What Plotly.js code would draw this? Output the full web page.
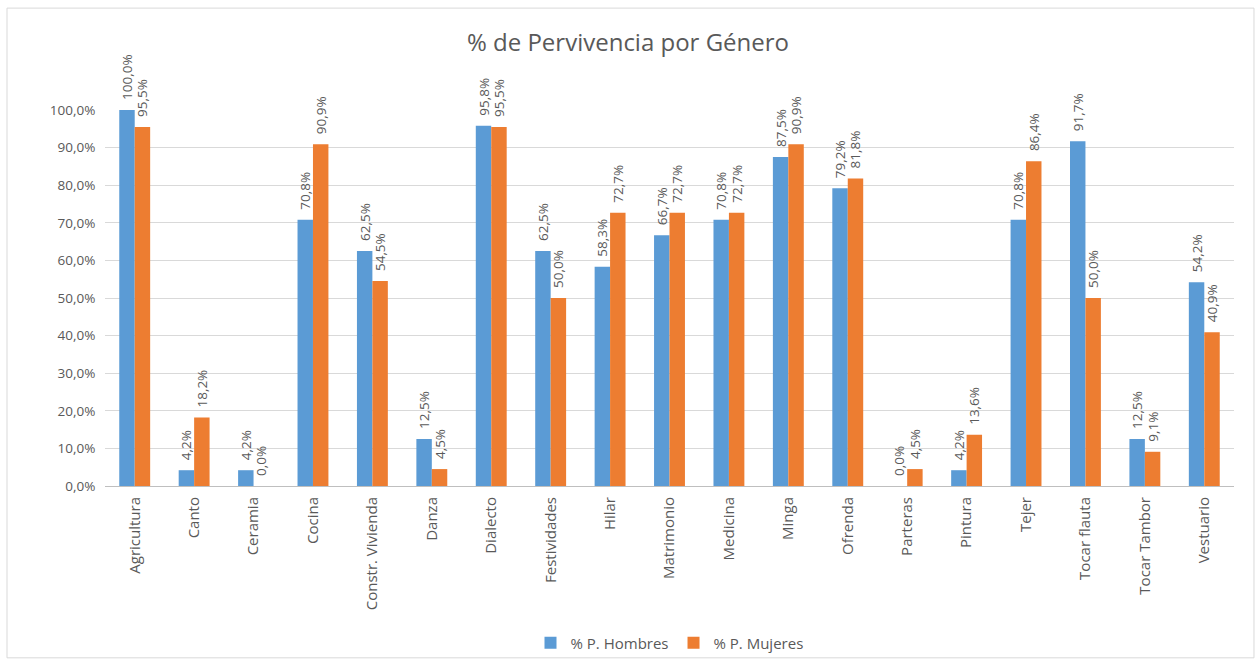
<!DOCTYPE html>
<html>
<head>
<meta charset="utf-8">
<script src="https://cdn.plot.ly/plotly-3.0.1.min.js"></script>
<style>
  body { margin: 0; background: #fff; }
  #chart { width: 1256px; height: 666px; }
</style>
</head>
<body>
<div id="chart"></div>
<script>
const generos = ['Agricultura', 'Canto', 'Ceramia', 'Cocina', 'Constr. Vivienda', 'Danza', 'Dialecto',
    'Festividades', 'Hilar', 'Matrimonio', 'Medicina', 'Minga', 'Ofrenda', 'Parteras', 'Pintura',
    'Tejer', 'Tocar flauta', 'Tocar Tambor', 'Vestuario'];
const hombres = [100.0, 4.2, 4.2, 70.8, 62.5, 12.5, 95.8, 62.5, 58.3, 66.7, 70.8, 87.5, 79.2, 0.0, 4.2, 70.8, 91.7, 12.5, 54.2];
const mujeres = [95.5, 18.2, 0.0, 90.9, 54.5, 4.5, 95.5, 50.0, 72.7, 72.7, 72.7, 90.9, 81.8, 4.5, 13.6, 86.4, 50.0, 9.1, 40.9];

const grey = '#595959';
const fam = '"Open Sans", sans-serif';

// leading non-breaking spaces push the rotated label a bit off the bar top
const makeTrace = (name, values, color) => ({
    type: 'bar',
    name: name,
    x: generos,
    y: values,
    marker: { color: color },
    texttemplate: '\u00a0\u00a0%{y:.1f}%',
    textposition: 'outside',
    textangle: -90,
    constraintext: 'none',
    cliponaxis: false,
    textfont: { family: fam, size: 13.5, color: grey },
    hoverinfo: 'x+y'
});

const traces = [
    makeTrace('% P. Hombres', hombres, '#5B9BD5'),
    makeTrace('% P. Mujeres', mujeres, '#ED7D31')
];

const layout = {
    width: 1256,
    height: 666,
    separators: ',.',
    font: { family: fam, size: 13, color: grey },
    title: {
        text: '% de Pervivencia por Género',
        font: { family: fam, size: 24, color: grey },
        x: 0.5,
        xanchor: 'center',
        y: 0.936,
        yanchor: 'middle'
    },
    margin: { l: 105, r: 22, t: 110, b: 180, autoexpand: false },
    barmode: 'group',
    bargap: 0.48,
    bargroupgap: 0,
    xaxis: {
        tickangle: -90,
        showline: true,
        linecolor: '#bfbfbf',
        ticks: 'outside',
        ticklen: 4,
        tickcolor: 'rgba(0,0,0,0)',
        tickfont: { family: fam, size: 15, color: grey }
    },
    yaxis: {
        range: [0, 100],
        dtick: 10,
        tickformat: '.1f',
        ticksuffix: '%',
        gridcolor: '#d9d9d9',
        zeroline: false,
        tickfont: { family: fam, size: 13.5, color: grey },
        ticklen: 6,
        ticks: 'outside',
        tickcolor: 'rgba(0,0,0,0)'
    },
    showlegend: true,
    legend: {
        orientation: 'h',
        x: 0.5,
        xanchor: 'center',
        y: -0.4176,
        yanchor: 'middle',
        bgcolor: 'rgba(0,0,0,0)',
        font: { family: fam, size: 15, color: grey },
        itemwidth: 30
    },
    shapes: [{
        type: 'rect',
        xref: 'paper',
        yref: 'paper',
        x0: -0.0868,
        x1: 1.0177,
        y0: -0.457,
        y1: 1.271,
        line: { color: '#d9d9d9', width: 1 }
    }],
    plot_bgcolor: '#fff',
    paper_bgcolor: '#fff'
};

Plotly.newPlot('chart', traces, layout, { displayModeBar: false });
</script>
</body>
</html>
